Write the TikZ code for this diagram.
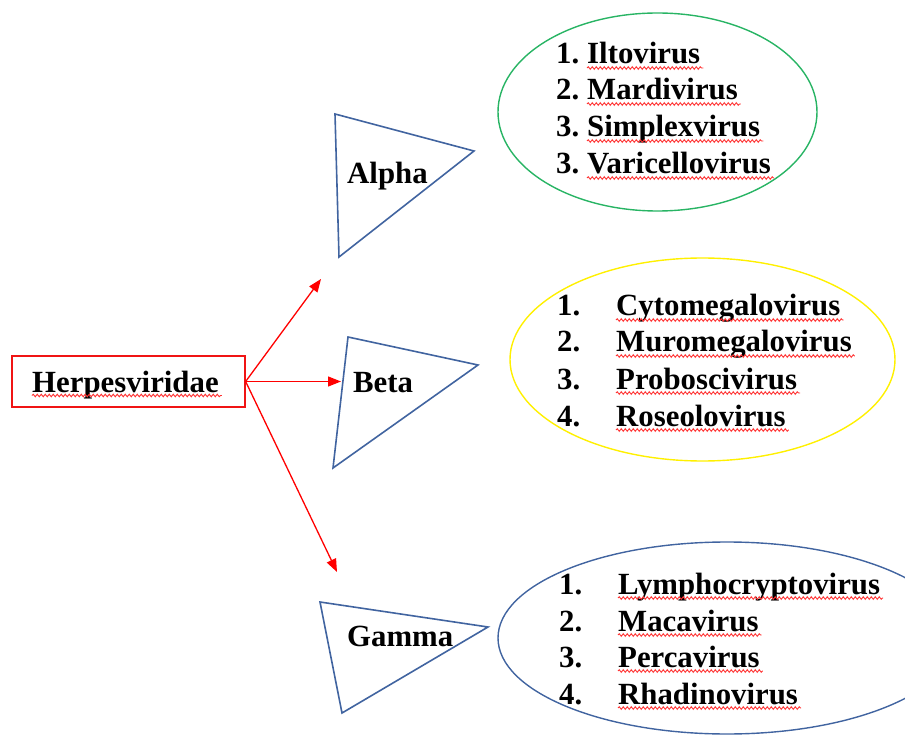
\documentclass[tikz,border=0pt]{standalone}
\usepackage{fontspec}
\setmainfont{Liberation Serif}
\usetikzlibrary{arrows.meta,decorations.pathmorphing}
\definecolor{triblue}{RGB}{65,100,160}
\definecolor{elgreen}{RGB}{40,180,100}
\definecolor{elyellow}{RGB}{255,240,0}
\definecolor{boxred}{RGB}{240,20,20}
\begin{document}
\begin{tikzpicture}[x=1pt,y=-1pt,
  lbl/.style={inner sep=0pt, anchor=base west, font=\fontsize{30.8}{36}\selectfont\bfseries},
  squig/.style={draw=red!80, line width=0.9pt, decorate, decoration={snake, amplitude=1.3pt, segment length=4pt}},
  tri/.style={draw=triblue, line width=1.6pt, line join=miter},
  link/.style={draw=red, line width=1.3pt, -{Triangle[length=13pt,width=10pt]}},
  rootbox/.style={draw=boxred, line width=1.3pt, minimum width=233pt, minimum height=51pt, inner sep=0pt}]
\useasboundingbox (0,0) rectangle (905,735);
\clip (0,0) rectangle (905,735);

% root
\node[rootbox] (root) at (128.5,381.5) {};
\node[lbl] (rootlbl) at (32,392) {Herpesviridae};
\draw[squig] ([yshift=-3.5pt]rootlbl.base west) -- ([yshift=-3.5pt,xshift=3pt]rootlbl.base east);

% arrows
\coordinate (ta) at (321,279);
\coordinate (tb) at (341,381.5);
\coordinate (tg) at (337,572);
\draw[link] (root.east) -- (ta);
\draw[link] (root.east) -- (tb);
\draw[link] (root.east) -- (tg);

% triangles
\draw[tri] (335,114) -- (474,151) -- (339,257) -- cycle;
\node[lbl] (alpha) at (347,184) {Alpha};
\draw[tri] (348,337) -- (478,365) -- (333,468) -- cycle;
\node[lbl] (beta) at (353,392) {Beta};
\draw[tri] (320,602) -- (488,627) -- (342,713) -- cycle;
\node[lbl] (gamma) at (347,646) {Gamma};

% ellipses
\draw[draw=elgreen, line width=1.4pt] (657.5,112) ellipse [x radius=159.5pt, y radius=99pt];
\draw[draw=elyellow, line width=1.4pt] (702.5,359.5) ellipse [x radius=192.5pt, y radius=101.5pt];
\draw[draw=triblue, line width=1.4pt] (727,638) ellipse [x radius=229pt, y radius=96pt];

% alpha list
\foreach \n/\w/\y [count=\i] in {1/Iltovirus/64, 2/Mardivirus/100, 3/Simplexvirus/137, 3/Varicellovirus/174}{
  \node[lbl] (an\i) at (556,\y) {\n.};
  \node[lbl] (aw\i) at (587,\y) {\w};
  \draw[squig] ([yshift=-4pt]aw\i.base west) -- ([yshift=-4pt,xshift=3pt]aw\i.base east);
}
% beta list
\foreach \n/\w/\y [count=\i] in {1/Cytomegalovirus/316, 2/Muromegalovirus/352, 3/Proboscivirus/389, 4/Roseolovirus/426}{
  \node[lbl] (bn\i) at (557,\y) {\n.};
  \node[lbl] (bw\i) at (616,\y) {\w};
  \draw[squig] ([yshift=-4pt]bw\i.base west) -- ([yshift=-4pt,xshift=3pt]bw\i.base east);
}
% gamma list
\foreach \n/\w/\y [count=\i] in {1/Lymphocryptovirus/594, 2/Macavirus/631, 3/Percavirus/667, 4/Rhadinovirus/704}{
  \node[lbl] (gn\i) at (559,\y) {\n.};
  \node[lbl] (gw\i) at (618,\y) {\w};
  \draw[squig] ([yshift=-4pt]gw\i.base west) -- ([yshift=-4pt,xshift=3pt]gw\i.base east);
}
\end{tikzpicture}
\end{document}
